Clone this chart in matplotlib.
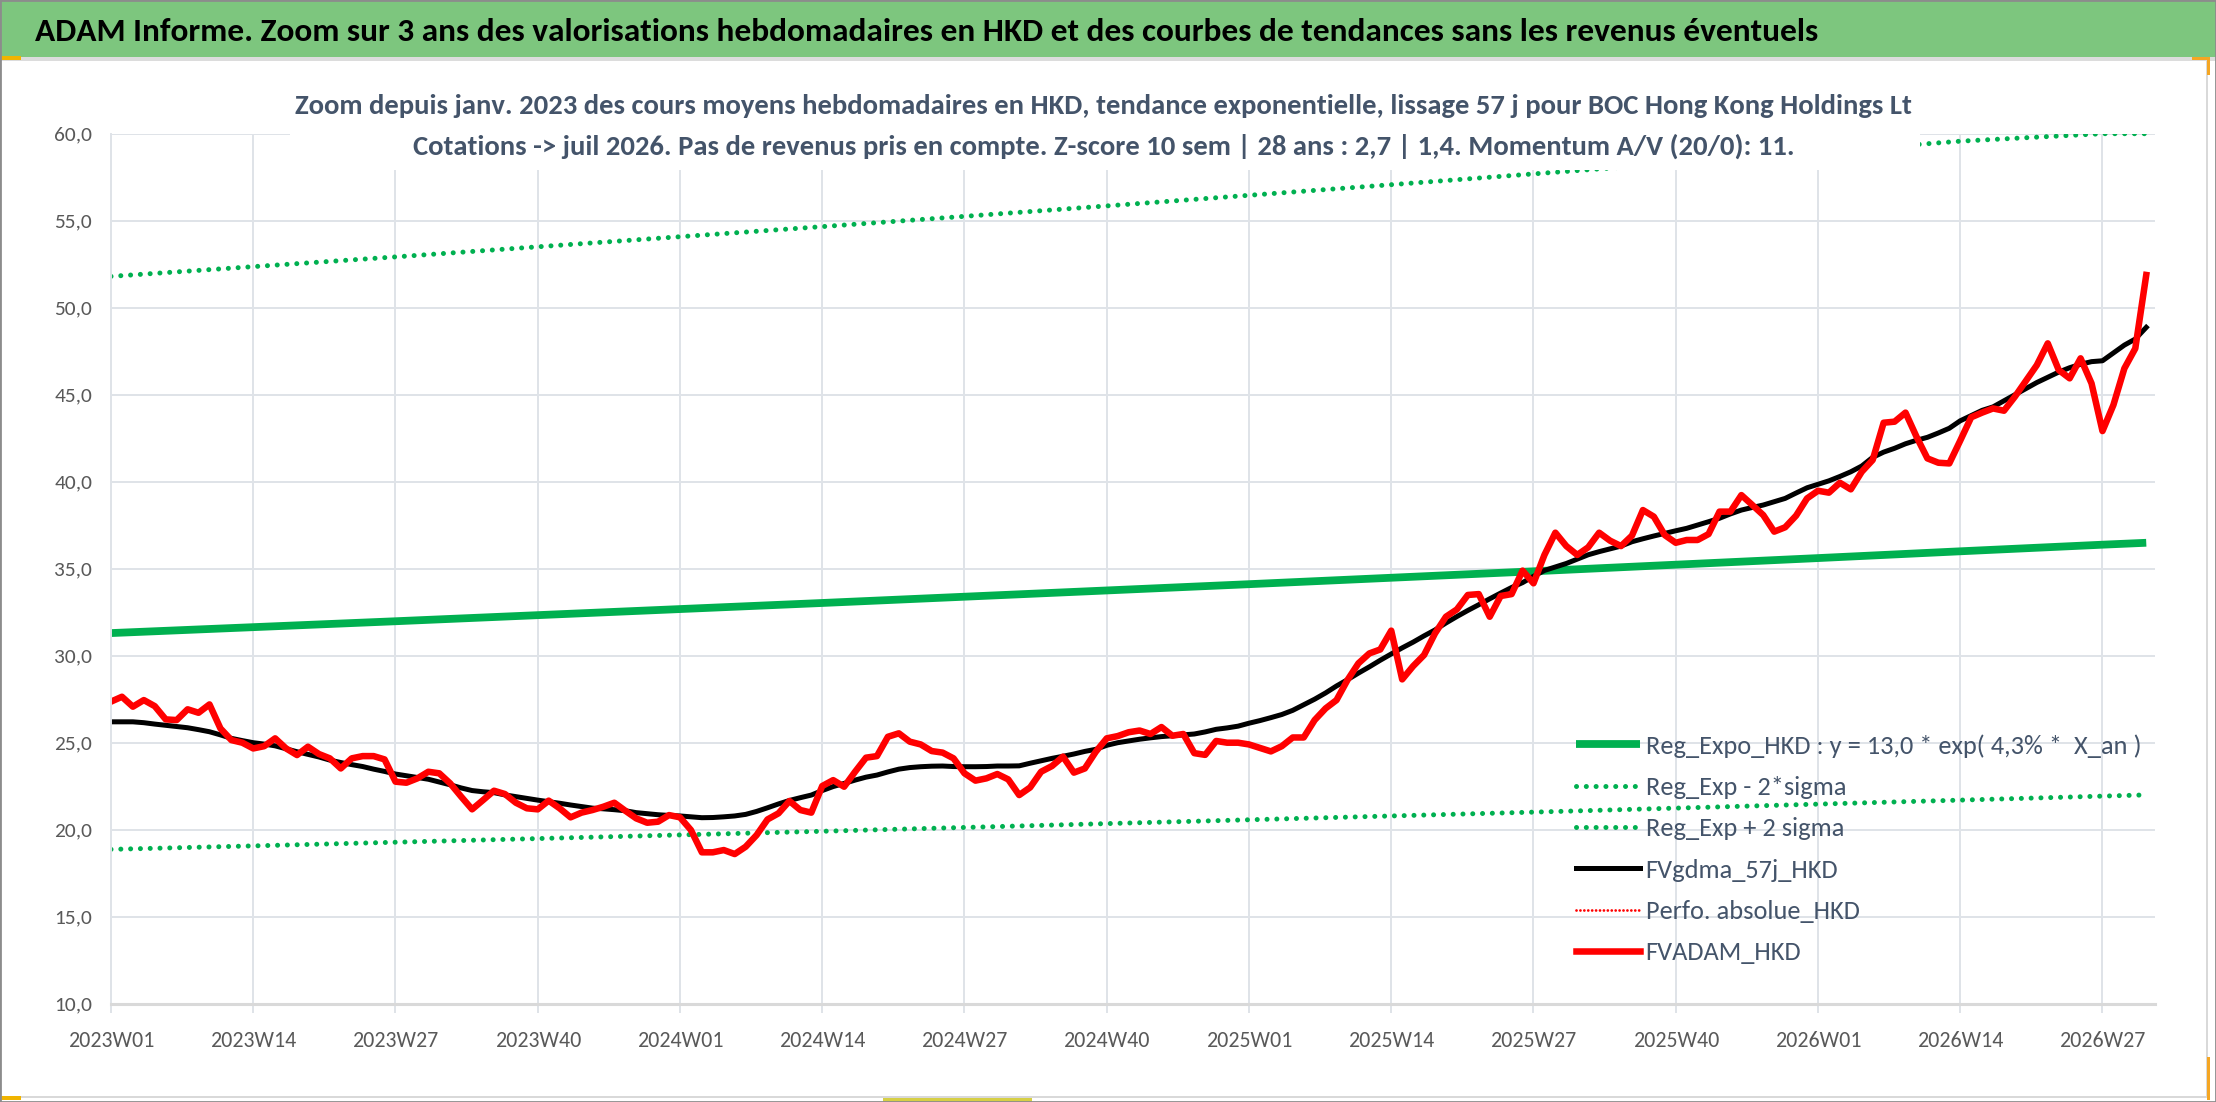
import matplotlib
matplotlib.use('Agg')
import matplotlib.pyplot as plt
from matplotlib import font_manager
from matplotlib.patches import Rectangle
import numpy as np


# pick a humanist sans close to Calibri
def pick_font(names):
    for n in names:
        try:
            font_manager.findfont(font_manager.FontProperties(family=n), fallback_to_default=False)
            return n
        except ValueError:
            pass
    return 'DejaVu Sans'


FONT = pick_font(['Carlito', 'Lato', 'Open Sans'])
plt.rcParams['font.family'] = [FONT, 'DejaVu Sans']

# ###########################################################
# Data (weekly categories, 2023W01 = 0)

tick_idx = [0, 13, 26, 39, 52, 65, 78, 91, 104, 117, 130, 143, 156, 169, 182]
tick_labels = ['2023W01', '2023W14', '2023W27', '2023W40', '2024W01', '2024W14',
               '2024W27', '2024W40', '2025W01', '2025W14', '2025W27', '2025W40',
               '2026W01', '2026W14', '2026W27']

# FVADAM_HKD (red)
fvadam = [
    27.36, 27.64, 27.07, 27.45, 27.10, 26.34, 26.30, 26.92, 26.72, 27.20,
    25.82, 25.15, 25.00, 24.67, 24.80, 25.25, 24.67, 24.29, 24.77, 24.35,
    24.10, 23.52, 24.10, 24.23, 24.23, 24.04, 22.76, 22.70, 22.95, 23.33,
    23.24, 22.66, 21.90, 21.17, 21.70, 22.24, 22.05, 21.55, 21.23, 21.17,
    21.67, 21.23, 20.71, 20.98, 21.13, 21.32, 21.55, 21.09, 20.65, 20.40,
    20.46, 20.84, 20.71, 19.98, 18.70, 18.70, 18.83, 18.60, 19.02, 19.69,
    20.59, 20.94, 21.65, 21.13, 20.98, 22.51, 22.85, 22.47, 23.33, 24.14,
    24.23, 25.34, 25.54, 25.06, 24.90, 24.52, 24.43, 24.10, 23.24, 22.82,
    22.95, 23.20, 22.89, 21.99, 22.43, 23.33, 23.66, 24.20, 23.28, 23.52,
    24.48, 25.25, 25.38, 25.60, 25.70, 25.50, 25.90, 25.40, 25.50, 24.40,
    24.30, 25.10, 25.00, 25.00, 24.90, 24.70, 24.50, 24.80, 25.30, 25.30,
    26.30, 26.97, 27.45, 28.60, 29.56, 30.13, 30.36, 31.44, 28.64, 29.40,
    30.04, 31.28, 32.24, 32.66, 33.49, 33.54, 32.24, 33.43, 33.54, 34.89,
    34.16, 35.79, 37.07, 36.30, 35.79, 36.23, 37.07, 36.61, 36.30, 36.90,
    38.37, 37.99, 36.93, 36.49, 36.65, 36.65, 36.99, 38.28, 38.28, 39.23,
    38.66, 38.08, 37.13, 37.38, 38.05, 39.04, 39.48, 39.37, 39.94, 39.56,
    40.57, 41.25, 43.39, 43.45, 43.97, 42.59, 41.34, 41.09, 41.05, 42.36,
    43.70, 43.97, 44.21, 44.08, 44.89, 45.80, 46.70, 47.95, 46.42, 45.94,
    47.09, 45.65, 42.91, 44.41, 46.51, 47.66, 51.88,
]

# FVgdma_57j_HKD (black)
fvgdma = [
    26.20, 26.20, 26.20, 26.15, 26.07, 26.00, 25.93, 25.86, 25.75, 25.63,
    25.45, 25.25, 25.12, 25.00, 24.92, 24.82, 24.65, 24.48, 24.33, 24.18,
    24.00, 23.86, 23.74, 23.63, 23.48, 23.35, 23.20, 23.10, 23.00, 22.90,
    22.74, 22.58, 22.40, 22.25, 22.18, 22.13, 22.00, 21.90, 21.80, 21.70,
    21.61, 21.52, 21.42, 21.33, 21.24, 21.20, 21.15, 21.09, 20.98, 20.92,
    20.86, 20.82, 20.79, 20.74, 20.69, 20.70, 20.74, 20.79, 20.88, 21.05,
    21.26, 21.48, 21.68, 21.84, 21.99, 22.25, 22.48, 22.66, 22.85, 23.02,
    23.14, 23.32, 23.48, 23.57, 23.62, 23.65, 23.66, 23.63, 23.62, 23.62,
    23.63, 23.66, 23.66, 23.67, 23.82, 23.96, 24.10, 24.22, 24.35, 24.50,
    24.62, 24.85, 25.00, 25.10, 25.20, 25.28, 25.35, 25.40, 25.45, 25.50,
    25.62, 25.77, 25.85, 25.95, 26.12, 26.27, 26.44, 26.62, 26.86, 27.18,
    27.50, 27.86, 28.26, 28.62, 29.00, 29.36, 29.74, 30.10, 30.45, 30.78,
    31.14, 31.48, 31.88, 32.25, 32.60, 32.93, 33.27, 33.60, 33.92, 34.20,
    34.56, 34.90, 35.10, 35.30, 35.55, 35.80, 35.98, 36.14, 36.30, 36.55,
    36.72, 36.88, 37.03, 37.18, 37.32, 37.51, 37.70, 37.90, 38.15, 38.37,
    38.52, 38.66, 38.85, 39.04, 39.35, 39.65, 39.85, 40.05, 40.30, 40.57,
    40.90, 41.40, 41.70, 41.92, 42.18, 42.38, 42.55, 42.80, 43.07, 43.50,
    43.80, 44.10, 44.30, 44.65, 45.00, 45.35, 45.70, 46.00, 46.30, 46.55,
    46.75, 46.90, 46.95, 47.40, 47.85, 48.20, 48.87,
]

# regression curves, read at the tick weeks and the last week
reg_idx = [0, 13, 26, 39, 52, 65, 78, 91, 104, 117, 130, 143, 156, 169, 182, 186]
reg_expo = [31.30, 31.64, 31.98, 32.33, 32.68, 33.03, 33.39, 33.75,
            34.11, 34.48, 34.85, 35.23, 35.61, 36.00, 36.38, 36.49]
reg_lo = [18.87, 19.07, 19.28, 19.49, 19.70, 19.91, 20.13, 20.35,
          20.57, 20.79, 21.01, 21.24, 21.47, 21.70, 21.93, 22.00]
reg_hi = [51.80, 52.36, 52.92, 53.50, 54.08, 54.66, 55.25, 55.85,
          56.46, 57.07, 57.69, 58.31, 58.94, 59.57, 60.00, 60.00]

labels = ['Reg_Expo_HKD : y = 13,0 * exp( 4,3% *  X_an )',
          'Reg_Exp - 2*sigma',
          'Reg_Exp + 2 sigma',
          'FVgdma_57j_HKD',
          'Perfo. absolue_HKD',
          'FVADAM_HKD']

HEADER = ('ADAM Informe. Zoom sur 3 ans des valorisations hebdomadaires en HKD '
          'et des courbes de tendances sans les revenus éventuels')
SUB1 = ('Zoom depuis janv. 2023 des cours moyens hebdomadaires en HKD, tendance '
        'exponentielle, lissage 57 j pour BOC Hong Kong Holdings Lt')
SUB2 = ('Cotations -> juil 2026. Pas de revenus pris en compte. Z-score 10 sem | '
        '28 ans : 2,7 | 1,4. Momentum A/V (20/0): 11.')

# ###########################################################
W, H = 2216, 1102
fig = plt.figure(figsize=(W / 100, H / 100), dpi=100, facecolor='white')
rend = fig.canvas.get_renderer()

GREEN = '#00b050'
GRID = '#dfe3e8'
TXT = '#44546a'
TICK = '#595959'


def box(x0, y0, x1, y1, color, z=1, **kw):
    # rectangle given in picture pixels (y down)
    fig.add_artist(Rectangle((x0 / W, 1 - y1 / H), (x1 - x0) / W, (y1 - y0) / H,
                             transform=fig.transFigure, facecolor=color,
                             edgecolor='none', zorder=z, **kw))


def fit_size(s, target, weight='normal', base=20.0):
    t = fig.text(0, 0, s, fontsize=base, fontweight=weight)
    bb = t.get_window_extent(renderer=rend)
    t.remove()
    return base * target / bb.width, bb.height * target / bb.width


# header band
box(0, 0, W, 57, '#7dc67e', z=0)
box(0, 57, W, 61, '#dcdcdc', z=0)

# plot area
ax = fig.add_axes([111 / W, 1 - 1003.7 / H, (2155 - 111) / W, 870 / H])
ax.set_facecolor('white')

x = np.arange(len(fvadam))
dots = (0, (0.01, 1.95))
ax.plot(reg_idx, reg_expo, color=GREEN, lw=5.6, solid_capstyle='butt', label=labels[0])
ax.plot(reg_idx, reg_lo, color=GREEN, lw=3.6, linestyle=dots,
        dash_capstyle='round', label=labels[1])
ax.plot(reg_idx, reg_hi, color=GREEN, lw=3.6, linestyle=dots,
        dash_capstyle='round', label=labels[2])
ax.plot(x, fvgdma, color='black', lw=3.6, solid_joinstyle='round', label=labels[3])
ax.plot([], [], color='red', lw=2.0, linestyle=(0, (0.01, 1.4)),
        dash_capstyle='round', label=labels[4])
ax.plot(x, fvadam, color='red', lw=4.7, solid_joinstyle='round', label=labels[5])

ax.set_xlim(0, 186.8)
ax.set_ylim(10, 60)
ax.set_xticks(tick_idx)
ax.set_xticklabels(tick_labels)
yt = np.arange(10, 61, 5)
ax.set_yticks(yt)
ax.set_yticklabels([('%.1f' % v).replace('.', ',') for v in yt])

ax.grid(True, color=GRID, lw=1.4)
ax.set_axisbelow(True)
for s in ['top', 'right']:
    ax.spines[s].set_visible(False)
ax.spines['left'].set_color(GRID)
ax.spines['left'].set_linewidth(1.4)
ax.spines['bottom'].set_color('#d9d9d9')
ax.spines['bottom'].set_linewidth(2.2)

ysize, _ = fit_size('60,0', 38)
xsize, _ = fit_size('2023W01', 86)
ax.tick_params(axis='y', length=0, pad=13.5, labelsize=ysize, labelcolor=TICK)
ax.tick_params(axis='x', length=6.5, width=1.4, color=GRID, pad=13,
               labelsize=xsize, labelcolor=TICK)

# legend, no frame, gridlines show through
lsize, lh = fit_size(labels[0], 495)
fpx = lsize * 100 / 72
ax.legend(loc='center left', bbox_to_anchor=(1575.5 / W, 1 - 849.2 / H),
          bbox_transform=fig.transFigure, frameon=False, fontsize=lsize,
          labelcolor=TXT, borderpad=0, borderaxespad=0,
          handlelength=64 / fpx, handletextpad=6 / fpx,
          labelspacing=(43.2 - lh) / fpx)

# titles
hsize, _ = fit_size(HEADER, 1784, weight='bold')
fig.text(35 / W, 1 - 32 / H, HEADER, fontsize=hsize, fontweight='bold',
         color='black', ha='left', va='center', zorder=3)

box(290, 80, 1920, 170, 'white', z=5)
s1, _ = fit_size(SUB1, 1616, weight='bold')
s2, _ = fit_size(SUB2, 1380, weight='bold')
ssize = (s1 + s2) / 2
fig.text(1103 / W, 1 - 106 / H, SUB1, fontsize=ssize, fontweight='bold',
         color=TXT, ha='center', va='center', zorder=6)
fig.text(1104 / W, 1 - 146 / H, SUB2, fontsize=ssize, fontweight='bold',
         color=TXT, ha='center', va='center', zorder=6)

# chart frame and selection handles
box(2206, 61, 2208, 1097, '#d9d9d9', z=2)
box(0, 1096, 2208, 1098, '#d9d9d9', z=2)
box(0, 56, 21, 60, '#f0b400', z=4)
box(2192, 57, 2210, 60, '#f5a623', z=4)
box(2207, 57, 2210, 75, '#f5a623', z=4)
box(0, 1096, 21, 1100, '#f0b400', z=4)
box(883, 1098, 1032, 1102, '#d6cf45', z=4)
box(2207, 1057, 2210, 1100, '#f5a623', z=4)
fig.add_artist(Rectangle((0, 0), 1, 1, transform=fig.transFigure, fill=False,
                         edgecolor='#8c8c8c', lw=2, zorder=7))

fig.savefig('out.png', dpi=100, facecolor='white')
